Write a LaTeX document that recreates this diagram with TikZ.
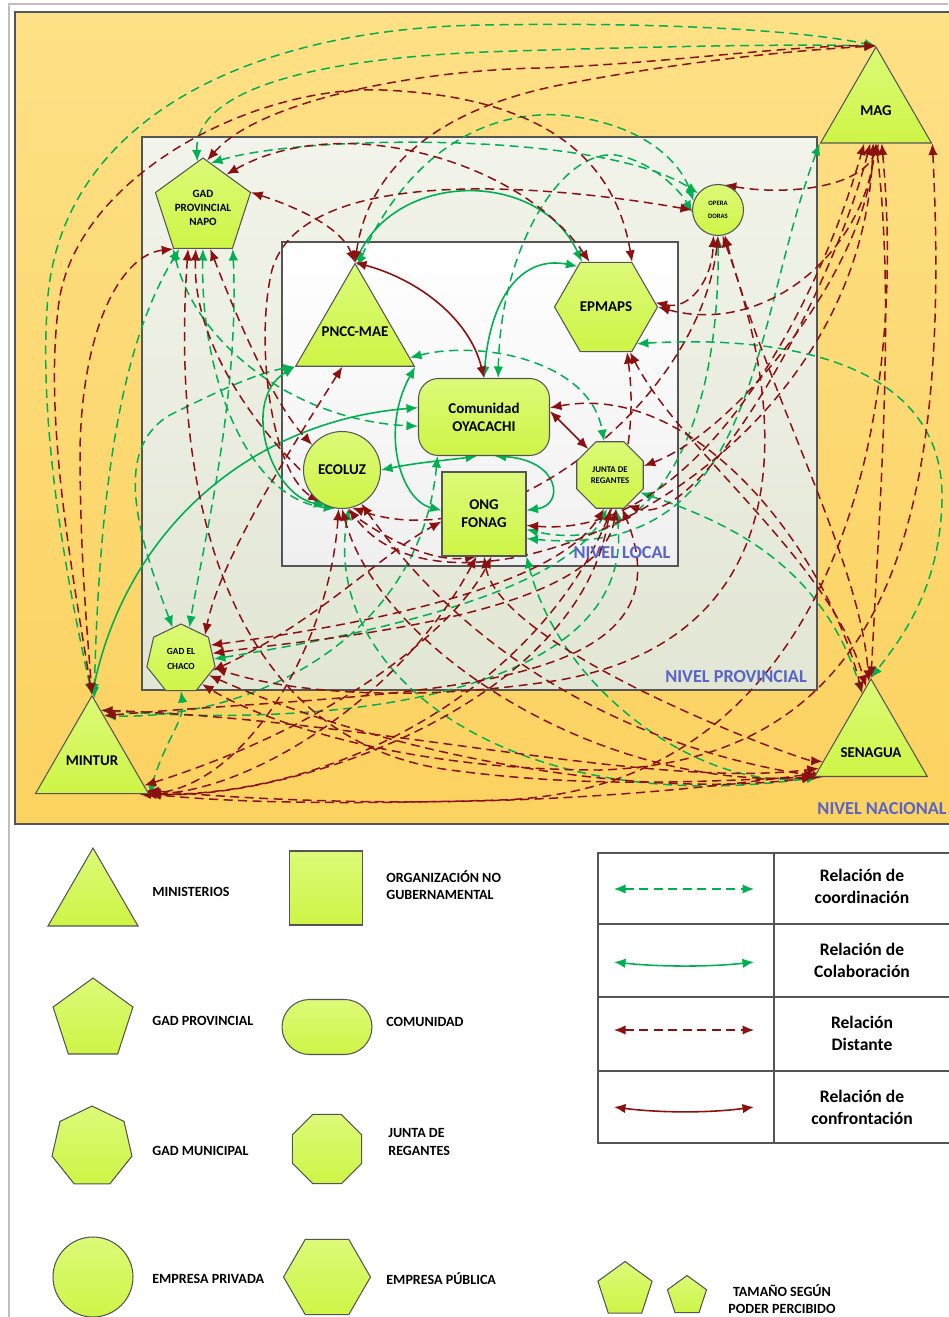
\documentclass[tikz,border=0pt]{standalone}
\usepackage{fontspec}
\setmainfont{Carlito}
\usepackage{tikz}
\usetikzlibrary{shapes,arrows.meta,positioning,calc,backgrounds}

\definecolor{limefill}{RGB}{206,245,70}
\definecolor{limetop}{RGB}{220,250,120}
\definecolor{shapeline}{RGB}{85,85,85}
\definecolor{coordgreen}{RGB}{0,176,80}
\definecolor{distred}{RGB}{140,16,16}
\definecolor{nivelblue}{RGB}{88,100,200}
\definecolor{orangetop}{RGB}{254,224,134}
\definecolor{orangebot}{RGB}{252,210,96}
\definecolor{provtop}{RGB}{242,244,235}
\definecolor{provbot}{RGB}{226,230,212}

\pgfdeclarelayer{boxes}
\pgfdeclarelayer{links}
\pgfsetlayers{boxes,links,main}

\tikzset{
  actor/.style={draw=shapeline, line width=0.6pt, top color=limetop, bottom color=limefill,
    inner sep=0pt, align=center, font=\fontsize{8.5}{10.2}\selectfont\bfseries},
  ministerio/.style={actor, regular polygon, regular polygon sides=3},
  gadprov/.style={actor, regular polygon, regular polygon sides=5},
  gadmun/.style={actor, regular polygon, regular polygon sides=7},
  regantes/.style={actor, regular polygon, regular polygon sides=8},
  epublica/.style={actor, regular polygon, regular polygon sides=6},
  eprivada/.style={actor, circle},
  ongbox/.style={actor, rectangle},
  mintext/.style={font=\fontsize{8.5}{10.2}\selectfont\bfseries, inner sep=0pt},
  nivel/.style={text=nivelblue, font=\fontsize{10.4}{12}\selectfont\bfseries},
  legtext/.style={anchor=west, align=left, inner sep=0pt, font=\fontsize{8}{10}\selectfont\bfseries},
  tabtext/.style={align=center, font=\fontsize{10}{12.5}\selectfont\bfseries},
  >={Latex[length=2.3mm,width=1.9mm]},
  coord/.style={<->, coordgreen, line width=0.85pt, dash pattern=on 1.8mm off 1.1mm},
  colab/.style={<->, coordgreen, line width=0.9pt},
  dist/.style={<->, distred, line width=0.85pt, dash pattern=on 1.8mm off 1.1mm},
  confr/.style={<->, distred, line width=0.9pt}
}

\begin{document}
\begin{tikzpicture}[x=0.02cm, y=-0.02cm]
\useasboundingbox (0,0) rectangle (948,1317);

\begin{pgfonlayer}{boxes}
  \fill[white] (0,0) rectangle (948,1317);
  \draw[black!25, line width=0.8pt] (9,1317) -- (9,4) -- (948,4);
  \draw[shapeline, line width=1pt, top color=orangetop, bottom color=orangebot] (15,12) rectangle (962,824);
  \draw[shapeline, line width=1pt, top color=provtop, bottom color=provbot] (142,137) rectangle (817,690);
  \draw[shapeline, line width=1pt, top color=white, bottom color=black!6] (282,242) rectangle (678,566);
\end{pgfonlayer}

\node[nivel] (nlocal) at (622,553) {NIVEL LOCAL};
\node[nivel] (nprov) at (736,677) {NIVEL PROVINCIAL};
\node[nivel] (nnac) at (882,809) {NIVEL NACIONAL};

% actores
\node[ministerio, minimum size=2.56cm, label={[mintext, name=magtx]center:MAG}] (mag) at (876,111) {};
\node[ministerio, minimum size=2.74cm, label={[mintext, name=pncctx]center:PNCC-MAE}] (pncc) at (355,332) {};
\node[ministerio, minimum size=2.61cm, label={[mintext, name=minturtx]center:MINTUR}] (mintur) at (92,761) {};
\node[ministerio, minimum size=2.6cm, label={[mintext, name=senaguatx, yshift=-1.7mm]center:SENAGUA}] (senagua) at (871,744) {};
\node[gadprov, minimum size=2cm, font=\fontsize{6.3}{8}\selectfont\bfseries] (napo) at (203,208) {GAD\\PROVINCIAL\\NAPO};
\node[gadmun, minimum size=1.4cm, font=\fontsize{5.3}{8.5}\selectfont\bfseries] (chaco) at (181,659) {GAD EL\\CHACO};
\node[regantes, minimum size=1.44cm, font=\fontsize{5}{6.5}\selectfont\bfseries] (junta) at (610,475) {JUNTA DE\\REGANTES};
\node[epublica, minimum size=2.06cm] (epmaps) at (606,307) {EPMAPS};
\node[eprivada, minimum size=1.02cm, font=\fontsize{3.8}{7.4}\selectfont\bfseries] (opera) at (718,210) {OPERA\\DORAS};
\node[eprivada, minimum size=1.54cm] (ecoluz) at (342,470) {ECOLUZ};
\node[ongbox, minimum width=2.62cm, minimum height=1.54cm, rounded corners=4mm] (oyacachi) at (484,417) {Comunidad\\OYACACHI};
\node[ongbox, minimum size=1.68cm] (fonag) at (484,514) {ONG\\FONAG};

\begin{pgfonlayer}{links}
% coordinacion
\draw[coord] (mintur.90) .. controls (62,560) and (40,420) .. (47,310) .. controls (55,120) and (250,28) .. (485,25) .. controls (660,22) and (800,30) .. (mag.90);
\draw[coord] (napo.97) .. controls (195,110) and (250,62) .. (485,52) .. controls (660,46) and (800,44) .. (mag.90);
\draw[coord] (napo.80) .. controls (300,135) and (600,130) .. (opera.140);
\draw[coord] (pncc.88) .. controls (400,170) and (470,110) .. (560,115) .. controls (640,122) and (680,160) .. (opera.160);
\draw[coord] (oyacachi.70) .. controls (500,250) and (560,150) .. (615,155) .. controls (650,160) and (680,190) .. (opera.185);
\draw[coord] (mag.-150) .. controls (750,330) and (760,560) .. (fonag.-30);
\draw[coord] (epmaps.-50) .. controls (780,335) and (945,360) .. (942,500) .. controls (940,590) and (900,640) .. (senagua.90);
\draw[coord] (napo.-54) .. controls (240,400) and (200,560) .. (chaco.75);
\draw[coord] (napo.-126) .. controls (195,340) and (290,420) .. (oyacachi.188);
\draw[coord] (chaco.105) .. controls (140,540) and (110,450) .. (170,415) .. controls (220,390) and (260,372) .. (pncc.-150);
\draw[coord] (mintur.88) .. controls (100,450) and (130,330) .. (napo.-120);
\draw[coord] (napo.-90) .. controls (200,380) and (250,500) .. (ecoluz.-100);
\draw[coord] (pncc.-25) .. controls (480,340) and (590,360) .. (junta.100);
\draw[coord] (oyacachi.-140) .. controls (420,640) and (250,720) .. (mintur.75);
\draw[coord] (fonag.-45) .. controls (560,690) and (700,790) .. (senagua.-150);
\draw[coord] (mintur.-30) .. controls (165,740) and (185,720) .. (chaco.-90);
\draw[coord] (ecoluz.-80) .. controls (320,680) and (520,820) .. (senagua.-148);
\draw[coord] (opera.-90) .. controls (720,420) and (660,560) .. (fonag.-20);
\draw[coord] (chaco.0) .. controls (330,640) and (560,600) .. (junta.-95);
\draw[coord] (junta.-30) .. controls (720,520) and (820,560) .. (senagua.100);
\draw[coord] (mintur.80) .. controls (350,730) and (640,690) .. (junta.-80);
% colaboracion
\draw[colab] (pncc.90) .. controls (400,170) and (540,170) .. (epmaps.118);
\draw[colab] (oyacachi.90) .. controls (490,300) and (520,255) .. (epmaps.125);
\draw[colab] (mintur.90) .. controls (130,520) and (260,420) .. (oyacachi.172);
\draw[colab] (pncc.-150) .. controls (240,400) and (270,495) .. (ecoluz.-115);
\draw[colab] (ecoluz.0) .. controls (420,462) and (450,460) .. (oyacachi.-100);
\draw[colab] (oyacachi.-75) .. controls (560,460) and (565,505) .. (fonag.5);
\draw[colab] (pncc.-30) .. controls (380,430) and (400,500) .. (fonag.175);
% confrontacion
\draw[confr] (pncc.90) .. controls (420,280) and (470,320) .. (oyacachi.90);
\draw[confr] (oyacachi.5) -- (junta.130);
% distante
\draw[dist] (mintur.90) .. controls (70,560) and (45,420) .. (58,310) .. controls (70,180) and (250,85) .. (382,90) .. controls (500,95) and (610,130) .. (epmaps.60);
\draw[dist] (napo.85) .. controls (260,100) and (420,70) .. (540,68) .. controls (660,64) and (790,45) .. (mag.90);
\draw[dist] (napo.18) .. controls (290,205) and (340,225) .. (pncc.90);
\draw[dist] (opera.180) .. controls (520,180) and (300,170) .. (272,270) .. controls (255,340) and (270,470) .. (ecoluz.-125);
\draw[dist] (napo.-126) .. controls (120,255) and (82,330) .. (80,450) .. controls (80,560) and (88,640) .. (mintur.90);
\draw[dist] (napo.-110) .. controls (170,500) and (230,740) .. (450,770) .. controls (600,790) and (720,780) .. (senagua.-150);
\draw[dist] (napo.-100) .. controls (190,400) and (380,570) .. (fonag.-100);
\draw[dist] (pncc.90) .. controls (365,190) and (410,115) .. (560,85) .. controls (690,60) and (800,50) .. (mag.90);
\draw[dist] (napo.55) .. controls (340,110) and (520,160) .. (epmaps.110);
\draw[dist] (epmaps.0) .. controls (760,335) and (860,260) .. (mag.-90);
\draw[dist] (opera.75) .. controls (780,195) and (860,190) .. (mag.-85);
\draw[dist] (opera.-75) .. controls (770,400) and (860,560) .. (senagua.92);
\draw[dist] (epmaps.5) .. controls (690,310) and (712,280) .. (opera.-100);
\draw[dist] (opera.-80) .. controls (800,450) and (780,640) .. (560,680) .. controls (400,705) and (280,690) .. (chaco.-15);
\draw[dist] (mag.-90) .. controls (895,300) and (880,500) .. (senagua.90);
\draw[dist] (mag.-80) .. controls (910,450) and (820,790) .. (500,800) .. controls (300,806) and (210,800) .. (mintur.-30);
\draw[dist] (mag.-95) .. controls (860,480) and (450,650) .. (ecoluz.-80);
\draw[dist] (mag.-100) .. controls (830,300) and (700,530) .. (junta.-60);
\draw[dist] (mag.-30) .. controls (950,500) and (900,760) .. (600,770) .. controls (400,770) and (260,720) .. (chaco.-50);
\draw[dist] (mintur.-28) .. controls (400,812) and (620,800) .. (senagua.-152);
\draw[dist] (mintur.80) .. controls (380,720) and (650,790) .. (senagua.-155);
\draw[dist] (chaco.25) .. controls (400,620) and (560,580) .. (junta.-100);
\draw[dist] (chaco.-20) .. controls (320,620) and (380,555) .. (fonag.-170);
\draw[dist] (mintur.-25) .. controls (350,720) and (460,620) .. (fonag.-80);
\draw[dist] (ecoluz.-90) .. controls (380,650) and (600,790) .. (senagua.-150);
\draw[dist] (junta.-90) .. controls (580,700) and (300,800) .. (mintur.-32);
\draw[dist] (oyacachi.8) .. controls (700,380) and (830,560) .. (senagua.100);
\draw[dist] (junta.15) .. controls (740,430) and (870,260) .. (mag.-95);
\draw[dist] (napo.-80) .. controls (230,300) and (270,400) .. (ecoluz.140);
\draw[dist] (pncc.-110) .. controls (290,450) and (220,560) .. (chaco.45);
\draw[dist] (fonag.-15) .. controls (700,540) and (820,300) .. (mag.-110);
\draw[dist] (epmaps.-62) .. controls (680,450) and (830,560) .. (senagua.95);
\draw[dist] (epmaps.-65) .. controls (660,600) and (400,800) .. (mintur.-35);
\draw[dist] (opera.-90) .. controls (700,400) and (500,560) .. (ecoluz.-75);
\draw[dist] (junta.-80) .. controls (600,620) and (300,640) .. (chaco.10);
\draw[dist] (fonag.-90) .. controls (500,650) and (800,760) .. (senagua.-160);
\draw[dist] (ecoluz.-95) .. controls (330,640) and (250,780) .. (mintur.-30);
\draw[dist] (chaco.-30) .. controls (400,760) and (650,800) .. (senagua.-150);
\draw[dist] (mintur.75) .. controls (400,690) and (700,700) .. (junta.-70);
\draw[dist] (ecoluz.-60) .. controls (500,700) and (700,760) .. (senagua.-145);
\draw[dist] (fonag.-100) .. controls (400,700) and (250,790) .. (mintur.-30);
\end{pgfonlayer}

% leyenda de actores
\node[ministerio, minimum size=2.08cm] (ltri) at (93,900) {};
\node[legtext] (ltritx) at (152,892) {MINISTERIOS};
\node[ongbox, minimum width=1.46cm, minimum height=1.48cm] (lsq) at (326,888) {};
\node[legtext] (lsqtx) at (386,885) {ORGANIZACIÓN NO\\GUBERNAMENTAL};
\node[gadprov, minimum size=1.68cm] (lpent) at (93,1020) {};
\node[legtext] (lpenttx) at (152,1021) {GAD PROVINCIAL};
\node[ongbox, minimum width=1.8cm, minimum height=1.1cm, rounded corners=0.55cm] (lcom) at (327,1027) {};
\node[legtext] (lcomtx) at (386,1022) {COMUNIDAD};
\node[gadmun, minimum size=1.64cm] (lhept) at (92,1147) {};
\node[legtext] (lhepttx) at (152,1151) {GAD MUNICIPAL};
\node[regantes, minimum size=1.5cm] (loct) at (327,1149) {};
\node[legtext] (locttx) at (388,1142) {JUNTA DE\\REGANTES};
\node[eprivada, minimum size=1.6cm] (lcirc) at (93,1277) {};
\node[legtext] (lcirctx) at (152,1279) {EMPRESA PRIVADA};
\node[epublica, minimum size=1.74cm] (lhex) at (327,1277) {};
\node[legtext] (lhextx) at (386,1279) {EMPRESA PÚBLICA};
\node[gadprov, minimum size=1.14cm] (lbig) at (625,1290) {};
\node[gadprov, minimum size=0.82cm] (lsmall) at (687,1296) {};
\node[legtext, anchor=center, align=center] (lpoder) at (782,1299) {TAMAÑO SEGÚN\\PODER PERCIBIDO};

% leyenda de relaciones
\draw[shapeline, line width=1pt] (598,853) rectangle (962,1143);
\draw[shapeline, line width=1pt] (598,924) -- (962,924) (598,997) -- (962,997) (598,1071) -- (962,1071) (774,853) -- (774,1143);
\coordinate (rc1) at (614,889); \coordinate (rc2) at (754,889);
\coordinate (rk1) at (614,962); \coordinate (rk2) at (754,962);
\coordinate (rd1) at (614,1030); \coordinate (rd2) at (754,1030);
\coordinate (rf1) at (614,1107); \coordinate (rf2) at (754,1107);
\draw[coord] (rc1) -- (rc2);
\draw[colab] (rk1) .. controls (660,967) and (710,967) .. (rk2);
\draw[dist] (rd1) -- (rd2);
\draw[confr] (rf1) .. controls (660,1113) and (710,1113) .. (rf2);
\node[tabtext] (tc) at (862,886) {Relación de\\coordinación};
\node[tabtext] (tk) at (862,960) {Relación de\\Colaboración};
\node[tabtext] (td) at (862,1033) {Relación\\Distante};
\node[tabtext] (tf) at (862,1107) {Relación de\\confrontación};
\end{tikzpicture}
\end{document}
